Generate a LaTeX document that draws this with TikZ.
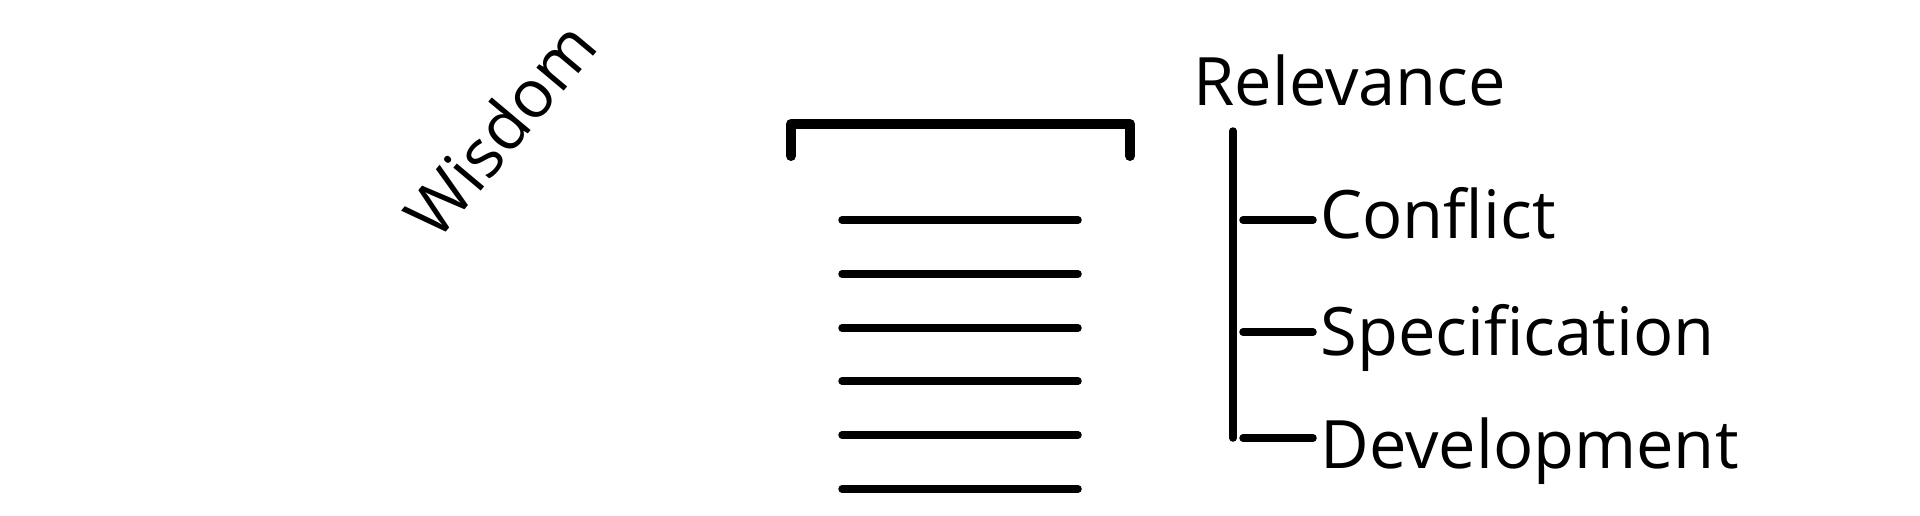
\documentclass[tikz,border=0pt]{standalone}
\usepackage{fontspec}
\setmainfont{Open Sans}
\usepackage{tikz}
\tikzstyle{term}=[inner sep=0pt,anchor=base west,
                  font=\fontsize{33.4pt}{38pt}\selectfont]
\tikzstyle{thickrule}=[line width=5pt,line cap=round,line join=round]
\tikzstyle{thinrule}=[line width=3.75pt,line cap=round]

\begin{document}
\begin{tikzpicture}[x=0.5pt,y=-0.5pt]
    \useasboundingbox (0,0) rectangle (1920,515);
    \node (wis) at (500,129) [term,anchor=center,rotate=50]{Wisdom};
    % bracket and rungs
    \draw[thickrule] (791,156) -- (791,124) -- (1130,124) -- (1130,156);
    \draw[thinrule] (842,220) -- (1078,220);
    \draw[thinrule] (842,274) -- (1078,274);
    \draw[thinrule] (842,328) -- (1078,328);
    \draw[thinrule] (842,381) -- (1078,381);
    \draw[thinrule] (842,435) -- (1078,435);
    \draw[thinrule] (842,489) -- (1078,489);
    % tree
    \node (rel)   at (1193,105) [term]{Relevance};
    \node (confl) at (1320,238) [term]{Conflict};
    \node (spec)  at (1320,355) [term]{Specification};
    \node (devel) at (1320,468) [term]{Development};
    \coordinate (top) at (1233,131);
    \coordinate (b1)  at (1233,220);
    \coordinate (b2)  at (1233,332);
    \coordinate (b3)  at (1233,438);
    \draw[thinrule] (top) -- (b3);
    \draw[thinrule,shorten <=5pt,shorten >=3.5pt] (b1) -- (b1 -| confl.west);
    \draw[thinrule,shorten <=5pt,shorten >=3.5pt] (b2) -- (b2 -| spec.west);
    \draw[thinrule,shorten <=5pt,shorten >=3.5pt] (b3) -- (b3 -| devel.west);
\end{tikzpicture}
\end{document}
